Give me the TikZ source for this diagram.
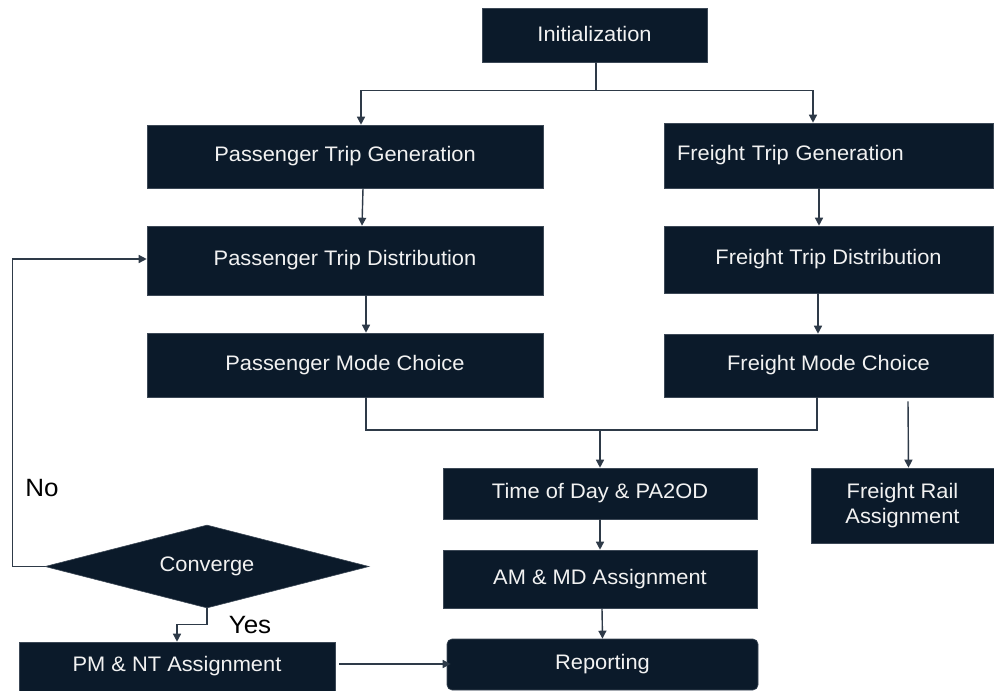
\documentclass[tikz,border=0pt]{standalone}
\usepackage{fontspec}
\setmainfont{Liberation Sans}[FakeStretch=1.04]
\usetikzlibrary{shapes.geometric,arrows.meta}
\definecolor{boxfill}{HTML}{0B1A2A}
\definecolor{boxedge}{HTML}{3C4856}
\definecolor{linec}{HTML}{2E3A48}
\definecolor{txt}{HTML}{F2F2F2}
\begin{document}
\begin{tikzpicture}[x=1pt,y=-1pt,
  box/.style={rectangle, draw=boxedge, line width=0.6pt, fill=boxfill, text=txt,
    inner sep=0pt, font=\fontsize{21}{25}\selectfont, align=center},
  line/.style={draw=linec, line width=1.4pt},
  arr/.style={line, -{Triangle[length=8pt,width=8pt]}},
  lbl/.style={font=\fontsize{25}{30}\selectfont, text=black, inner sep=0pt}]
\useasboundingbox (0,0) rectangle (994,691);

% boxes
\node[box, minimum width=225pt, minimum height=54pt] (init) at (594.5,35) {\raisebox{2pt}{Initialization}};
\node[box, minimum width=396pt, minimum height=63pt] (pgen) at (345,156.5) {Passenger Trip Generation};
\node[box, minimum width=396pt, minimum height=69pt] (pdist) at (345,260.5) {Passenger Trip Distribution};
\node[box, minimum width=396pt, minimum height=64pt] (pmode) at (345,365) {Passenger Mode Choice};
\node[box, minimum width=329pt, minimum height=65pt, text width=303pt, inner xsep=13pt, align=left] (fgen) at (828.5,155.5) {Freight Trip Generation};
\node[box, minimum width=329pt, minimum height=67pt] (fdist) at (828.5,259.5) {Freight Trip Distribution};
\node[box, minimum width=329pt, minimum height=63pt] (fmode) at (828.5,365.5) {Freight Mode Choice};
\node[box, minimum width=314pt, minimum height=51pt] (tod) at (600,493.5) {Time of Day \& PA2OD};
\node[box, minimum width=314pt, minimum height=58pt] (am) at (600,579) {AM \& MD Assignment};
\node[box, minimum width=311pt, minimum height=51pt, rounded corners=5pt] (rep) at (602.5,664.5) {Reporting};
\node[box, minimum width=183pt, minimum height=75pt] (rail) at (902.5,505.5) {Freight Rail\\Assignment};
\node[box, minimum width=316pt, minimum height=49pt] (pm) at (177,666.5) {PM \& NT Assignment};
\node[box, shape=diamond, aspect=3.9, minimum width=324pt, minimum height=83pt] (conv) at (207,566.5) {Converge};

% labels
\node[lbl] (no) at (42,488) {No};
\node[lbl] (yes) at (250,625) {Yes};

% connectors
\draw[line] ([xshift=1.5pt]init.south) -- ++(0,28) coordinate (split);
\draw[arr] (split) -| ([xshift=16pt]pgen.north);
\draw[arr] (split) -| ([xshift=-15.5pt]fgen.north);
\draw[arr] ([xshift=18pt]pgen.south) -- ([xshift=17pt]pdist.north);
\draw[arr] ([xshift=21pt]pdist.south) -- ([xshift=21pt]pmode.north);
\draw[arr] ([xshift=-9.5pt]fgen.south) -- ([xshift=-9.5pt]fdist.north);
\draw[arr] ([xshift=-10.5pt]fdist.south) -- ([xshift=-10.5pt]fmode.north);
\coordinate (merge) at (600,430);
\draw[line] ([xshift=21pt]pmode.south) |- (merge) -| ([xshift=-11.5pt]fmode.south);
\draw[arr] (merge) -- (tod.north);
\draw[arr] ([xshift=79.5pt,yshift=-4pt]fmode.south) -- ([xshift=6pt]rail.north);
\draw[arr] (tod.south) -- (am.north);
\draw[arr] ([xshift=2pt]am.south) -- (rep.north);
\draw[arr] ([xshift=4pt,yshift=2.5pt]pm.east) -- ([xshift=4pt,yshift=2.5pt]pm.east -| rep.west);
\draw[arr] (conv.south) -- ++(0,16) -| (pm.north);
\draw[arr] (conv.west) -- ++(-32,0) |- ([yshift=1.5pt]pdist.west);
\end{tikzpicture}
\end{document}
